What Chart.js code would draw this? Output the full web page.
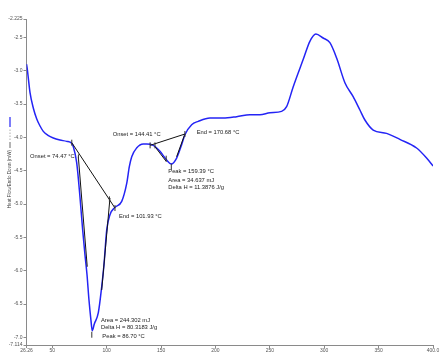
<!DOCTYPE html>
<html>
<head>
<meta charset="utf-8">
<script src="https://cdn.jsdelivr.net/npm/chart.js@4.4.1/dist/chart.umd.min.js"></script>
<style>
  html, body { margin: 0; padding: 0; background: #fff; }
  #wrap { width: 441px; height: 356px; }
</style>
</head>
<body>
<div id="wrap"><canvas id="dsc"></canvas></div>
<script>
// Heat flow trace (temperature °C, mW)
const tempC = [26.26, 27.0, 29.5, 32.5, 35.6, 38.7, 41.7, 46.0, 50.9, 57.0, 63.2, 67.8, 69.3, 72.4, 75.4, 77.9, 80.0, 81.9, 83.7, 85.5, 86.7, 88.6, 92.3, 95.4, 97.5, 100.0, 103.0, 107.6, 113.8, 118.4, 120.8, 123.0, 127.5, 133.6, 136.7, 142.8, 149.0, 155.1, 159.4, 164.3, 168.9, 171.9, 178.1, 184.2, 194.9, 207.1, 219.5, 231.7, 240.9, 250.1, 260.8, 265.4, 271.5, 280.7, 286.8, 292.3, 299.0, 305.2, 311.4, 319.0, 326.6, 332.8, 337.4, 345.0, 357.3, 369.5, 384.9, 394.1, 400.0];
const heatFlow = [-2.90, -2.98, -3.33, -3.56, -3.72, -3.83, -3.91, -3.97, -4.01, -4.04, -4.06, -4.09, -4.14, -4.38, -4.89, -5.39, -5.76, -6.06, -6.44, -6.74, -6.90, -6.80, -6.63, -6.24, -5.91, -5.39, -5.16, -5.05, -4.96, -4.69, -4.44, -4.29, -4.16, -4.10, -4.10, -4.12, -4.21, -4.34, -4.40, -4.31, -4.11, -3.96, -3.81, -3.76, -3.71, -3.71, -3.69, -3.66, -3.66, -3.63, -3.61, -3.54, -3.24, -2.83, -2.56, -2.45, -2.51, -2.58, -2.81, -3.18, -3.39, -3.59, -3.74, -3.89, -3.94, -4.03, -4.16, -4.31, -4.43];

// baseline / tangent construction lines: [x1, y1, x2, y2]
const constructLines = [
  [67.9, -4.08, 107.6, -5.06],
  [73.9, -4.29, 82.1, -5.94],
  [103.0, -4.91, 95.4, -6.29],
  [139.9, -4.12, 171.9, -3.95],
  [144.4, -4.14, 154.7, -4.36],
  [164.3, -4.29, 171.9, -3.95]
];
// small vertical markers at onset / end / peak
const markX = [67.9, 74.0, 102.5, 107.6, 86.3, 139.9, 144.4, 154.7, 159.4, 171.9];
const markY = [-4.08, -4.30, -4.93, -5.06, -6.96, -4.12, -4.12, -4.32, -4.44, -3.95];

// analysis text, anchored at (temp, mW) — left edge, vertical centre
const noteText = ["Onset = 74.47 °C", "End = 101.93 °C", "Area = 244.302 mJ", "Delta H = 80.3183 J/g", "Peak = 86.70 °C",
  "Onset = 144.41 °C", "End = 170.68 °C", "Peak = 159.39 °C", "Area = 34.637 mJ", "Delta H = 11.3876 J/g"];
const noteX = [29.5, 111.3, 94.7, 94.7, 96.0, 105.5, 182.7, 156.6, 156.6, 156.6];
const noteY = [-4.29, -5.19, -6.74, -6.85, -6.98, -3.96, -3.93, -4.51, -4.65, -4.75];

const xTicks = [26.26, 50, 100, 150, 200, 250, 300, 350, 400];
const xTickLabels = ["26.26", "50", "100", "150", "200", "250", "300", "350", "400.0"];
const yTicks = [-2.225, -2.5, -3.0, -3.5, -4.0, -4.5, -5.0, -5.5, -6.0, -6.5, -7.0, -7.114];
const yTickLabels = ["-2.225", "-2.5", "-3.0", "-3.5", "-4.0", "-4.5", "-5.0", "-5.5", "-6.0", "-6.5", "-7.0", "-7.114"];

const FONT = "'Liberation Sans', Arial, sans-serif";
const axisGrey = "#8a8a8a";

const datasets = [{
  data: tempC.map((t, i) => ({ x: t, y: heatFlow[i] })),
  borderColor: "#2424f5",
  borderWidth: 1.5,
  pointRadius: 0,
  showLine: true,
  cubicInterpolationMode: "monotone",
  order: 3
}];
constructLines.forEach(s => datasets.push({
  data: [{ x: s[0], y: s[1] }, { x: s[2], y: s[3] }],
  borderColor: "#111",
  borderWidth: 1,
  pointRadius: 0,
  showLine: true,
  order: 1
}));
datasets.push({
  data: markX.map((x, i) => ({ x, y: markY[i] })),
  pointStyle: "line",
  rotation: 90,
  pointRadius: 3,
  borderColor: "#333",
  borderWidth: 1,
  showLine: false,
  order: 0
});

const notesPlugin = {
  id: "notes",
  afterDatasetsDraw(chart) {
    const { ctx, scales: { x, y } } = chart;
    ctx.save();
    ctx.font = "5.8px " + FONT;
    ctx.fillStyle = "#222";
    ctx.textAlign = "left";
    ctx.textBaseline = "middle";
    noteText.forEach((t, i) => ctx.fillText(t, x.getPixelForValue(noteX[i]), y.getPixelForValue(noteY[i])));

    // y-axis title with legend swatch
    ctx.translate(10, 0);
    ctx.rotate(-Math.PI / 2);
    ctx.font = "4.6px " + FONT;
    ctx.fillStyle = "#444";
    ctx.textBaseline = "middle";
    ctx.textAlign = "right";
    ctx.fillText("Heat Flow/Endo Down (mW)", -150, 0);
    ctx.strokeStyle = "#444";
    ctx.lineWidth = 0.8;
    ctx.beginPath(); ctx.moveTo(-148, 0); ctx.lineTo(-142, 0); ctx.stroke();
    ctx.setLineDash([1.5, 1.5]);
    ctx.strokeStyle = "#999";
    ctx.beginPath(); ctx.moveTo(-140, 0); ctx.lineTo(-129, 0); ctx.stroke();
    ctx.setLineDash([]);
    ctx.strokeStyle = "#2424f5";
    ctx.lineWidth = 1.2;
    ctx.beginPath(); ctx.moveTo(-127, 0); ctx.lineTo(-117, 0); ctx.stroke();
    ctx.restore();
  }
};

new Chart(document.getElementById("dsc"), {
  type: "scatter",
  data: { datasets },
  options: {
    responsive: true,
    maintainAspectRatio: false,
    animation: false,
    layout: { padding: { top: 19, right: 8, left: 0, bottom: 0 } },
    plugins: { legend: { display: false }, tooltip: { enabled: false } },
    scales: {
      x: {
        type: "linear",
        min: 26.26,
        max: 400,
        afterBuildTicks: s => { s.ticks = xTicks.map(v => ({ value: v })); },
        afterFit: s => { s.height = 11; },
        ticks: {
          autoSkip: false, maxRotation: 0, padding: 0,
          color: "#555", font: { family: FONT, size: 5 },
          callback: (v) => xTickLabels[xTicks.indexOf(v)]
        },
        grid: { drawOnChartArea: false, tickLength: 3, color: axisGrey },
        border: { color: axisGrey }
      },
      y: {
        min: -7.114,
        max: -2.225,
        afterBuildTicks: s => { s.ticks = yTicks.map(v => ({ value: v })); },
        afterFit: s => { s.width = 26.5; },
        ticks: {
          autoSkip: false, padding: 1,
          color: "#555", font: { family: FONT, size: 5 },
          callback: (v) => yTickLabels[yTicks.indexOf(v)]
        },
        grid: { drawOnChartArea: false, tickLength: 3, color: axisGrey },
        border: { color: axisGrey }
      }
    }
  },
  plugins: [notesPlugin]
});
</script>
</body>
</html>
